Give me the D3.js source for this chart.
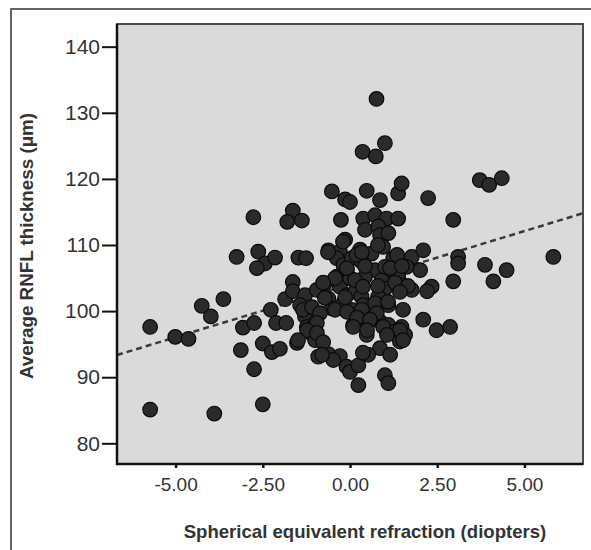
<!DOCTYPE html>
<html>
<head>
<meta charset="utf-8">
<script src="https://cdn.jsdelivr.net/npm/d3@7"></script>
<style>
  body { margin: 0; background: #fff; }
  text { font-family: "Liberation Sans", Arial, sans-serif; }
</style>
</head>
<body>
<svg width="591" height="550"></svg>
<script>
// refraction (D) and RNFL thickness (um)
const refraction = [
  -5.73,-5.01,-4.63,-4.25,-3.99,-3.63,-5.73,-3.89,-2.50,-2.75,
  -3.13,-3.07,-2.75,-2.50,-2.24,-2.01,-2.27,-2.12,-1.83,-1.86,
  -1.64,-1.64,-1.52,-2.77,-1.64,-1.80,-3.25,-2.63,-2.44,-2.15,
  -2.67,-1.48,-1.38,-1.26,
  -0.52,-0.14,0.00,-0.26,-0.62,-0.29,-0.14,-0.38,-0.19,-1.29,
  -0.95,-0.72,-0.38,-0.09,-0.29,-0.09,-0.62,-0.19,-1.29,-1.24,
  -1.10,-1.00,-1.00,-1.43,-0.91,-0.62,-0.29,-0.10,-0.48,0.00,
  -0.52,0.09,
  0.48,0.86,1.38,1.48,2.24,0.76,1.00,0.36,0.74,0.38,
  0.72,1.05,1.38,0.43,0.81,0.86,1.10,0.29,0.05,0.62,
  0.95,1.24,1.77,2.10,2.01,1.62,0.72,0.33,0.00,0.43,
  1.10,1.38,1.52,2.34,0.91,0.14,1.00,1.77,0.33,0.81,
  0.38,0.72,1.10,0.05,0.43,0.62,0.86,1.10,1.48,1.29,
  1.58,1.43,0.48,2.10,2.48,2.87,0.86,0.52,0.24,0.24,
  1.00,1.10,0.19,1.00,
  2.96,3.72,3.99,4.35,5.83,3.10,3.10,3.87,4.49,4.11,2.96,
  // dense core
  -0.20,-0.63,0.34,0.80,1.35,-0.09,0.43,1.15,1.49,-0.43,
  0.14,0.80,1.29,1.66,2.21,-0.77,-0.72,-0.14,0.37,1.09,
  1.43,-1.35,-1.09,-0.86,-0.43,-0.09,0.34,0.77,1.52,-0.95,
  -1.23,-0.95,-1.49,-0.77,0.20,0.57,0.09,0.49,0.95,1.43,
  1.52,1.06,-0.80,0.37,1.15
];
const thickness = [
  97.6,96.1,95.8,100.8,99.2,101.8,85.1,84.5,85.9,91.2,
  94.1,97.5,98.2,95.1,93.8,94.3,100.2,98.2,98.2,101.8,
  104.4,103.0,95.2,114.2,115.2,113.5,108.2,109.0,107.2,108.1,
  106.5,108.1,113.7,108.0,
  118.1,116.9,116.5,113.8,109.2,109.0,110.8,108.0,107.0,102.4,
  103.2,104.2,105.2,106.2,103.7,102.4,101.9,101.2,99.2,97.6,
  96.6,98.2,95.6,100.9,93.1,93.5,93.2,91.6,92.6,90.8,
  100.4,97.9,
  118.2,116.8,117.8,119.3,117.1,132.1,125.4,124.1,123.4,114.0,
  114.5,114.0,114.0,112.3,112.8,111.5,111.8,109.3,108.0,108.7,
  109.7,108.0,108.2,109.2,106.2,106.7,106.2,107.5,105.0,105.2,
  105.7,105.2,103.9,103.7,104.7,102.9,103.4,103.2,102.2,102.2,
  100.9,101.2,100.9,100.2,98.9,98.9,98.4,97.9,97.6,96.9,
  96.4,95.4,96.4,98.7,97.1,97.6,94.4,93.4,91.8,88.8,
  90.3,89.1,108.5,106.7,
  113.8,119.8,119.1,120.1,108.2,108.2,107.2,107.0,106.2,104.5,104.5,
  // dense core
  110.5,108.9,108.9,110.0,108.5,106.5,106.8,106.5,106.8,105.0,
  104.7,103.8,104.3,103.8,103.0,104.3,102.0,102.1,103.7,101.4,
  102.9,100.2,100.6,99.7,100.2,99.9,100.2,99.7,100.2,98.2,
  97.1,96.7,95.6,95.3,99.0,98.7,97.6,97.1,97.6,97.1,
  95.6,96.4,93.4,93.7,93.4
];
const xTicks = [-5, -2.5, 0, 2.5, 5];
const yTicks = [80, 90, 100, 110, 120, 130, 140];
// fit line: intercept, slope
const fitLine = [104.08, 1.605];

const svg = d3.select('svg');
const PL = 117, PT = 24, PR = 583, PB = 464;

// outer frame
svg.append('rect')
  .attr('x', 11).attr('y', 9)
  .attr('width', 620).attr('height', 600)
  .attr('fill', 'none').attr('stroke', '#333').attr('stroke-width', 1.5);

const x = d3.scaleLinear().domain([-6.68, 6.68]).range([PL, PR]);
const y = d3.scaleLinear().domain([76.87, 143.43]).range([PB, PT]);

svg.append('rect')
  .attr('x', PL).attr('y', PT)
  .attr('width', PR - PL).attr('height', PB - PT)
  .attr('fill', '#dadada')
  .attr('stroke', '#4a4a4a').attr('stroke-width', 2);

// dashed fit line
svg.append('line')
  .attr('x1', x(x.domain()[0])).attr('y1', y(fitLine[0] + fitLine[1] * x.domain()[0]))
  .attr('x2', x(x.domain()[1])).attr('y2', y(fitLine[0] + fitLine[1] * x.domain()[1]))
  .attr('stroke', '#3a3a3a').attr('stroke-width', 2.5)
  .attr('stroke-dasharray', '6,4');

const pts = refraction.map((r, i) => ({r: r, t: thickness[i]}));
svg.append('g')
  .selectAll('circle')
  .data(pts)
  .enter()
  .append('circle')
  .attr('cx', d => x(d.r))
  .attr('cy', d => y(d.t))
  .attr('r', 7.3)
  .attr('fill', '#2a2a2a')
  .attr('stroke', '#0a0a0a')
  .attr('stroke-width', 1.2);

const yAxis = svg.append('g')
  .attr('transform', `translate(${PL},0)`)
  .call(d3.axisLeft(y).tickValues(yTicks).tickSize(15).tickSizeOuter(0).tickPadding(2).tickFormat(d3.format('d')));
yAxis.select('.domain').remove();
yAxis.selectAll('line').attr('stroke', '#111').attr('stroke-width', 2);
yAxis.selectAll('text').attr('font-size', 21).attr('fill', '#333').attr('font-family', '"Liberation Sans", Arial, sans-serif');

const xAxis = svg.append('g')
  .attr('transform', `translate(0,${PB})`)
  .call(d3.axisBottom(x).tickValues(xTicks).tickSize(4).tickSizeOuter(0).tickPadding(10).tickFormat(d => d.toFixed(2)));
xAxis.select('.domain').remove();
xAxis.selectAll('line').attr('stroke', '#111').attr('stroke-width', 2.5);
xAxis.selectAll('text').attr('font-size', 19).attr('fill', '#333').attr('font-family', '"Liberation Sans", Arial, sans-serif');

// axis lines
svg.append('line').attr('x1', PL).attr('x2', PL).attr('y1', PT).attr('y2', PB + 1)
  .attr('stroke', '#111').attr('stroke-width', 2.5);
svg.append('line').attr('x1', PL - 1).attr('x2', PR).attr('y1', PB).attr('y2', PB)
  .attr('stroke', '#111').attr('stroke-width', 2.5);

svg.append('text')
  .attr('x', 365).attr('y', 538)
  .attr('text-anchor', 'middle')
  .attr('font-size', 18.6).attr('font-weight', 'bold').attr('fill', '#333')
  .text('Spherical equivalent refraction (diopters)');

svg.append('text')
  .attr('transform', 'translate(33,246) rotate(-90)')
  .attr('text-anchor', 'middle')
  .attr('font-size', 18.8).attr('font-weight', 'bold').attr('fill', '#333')
  .text('Average RNFL thickness (μm)');
</script>
</body>
</html>
